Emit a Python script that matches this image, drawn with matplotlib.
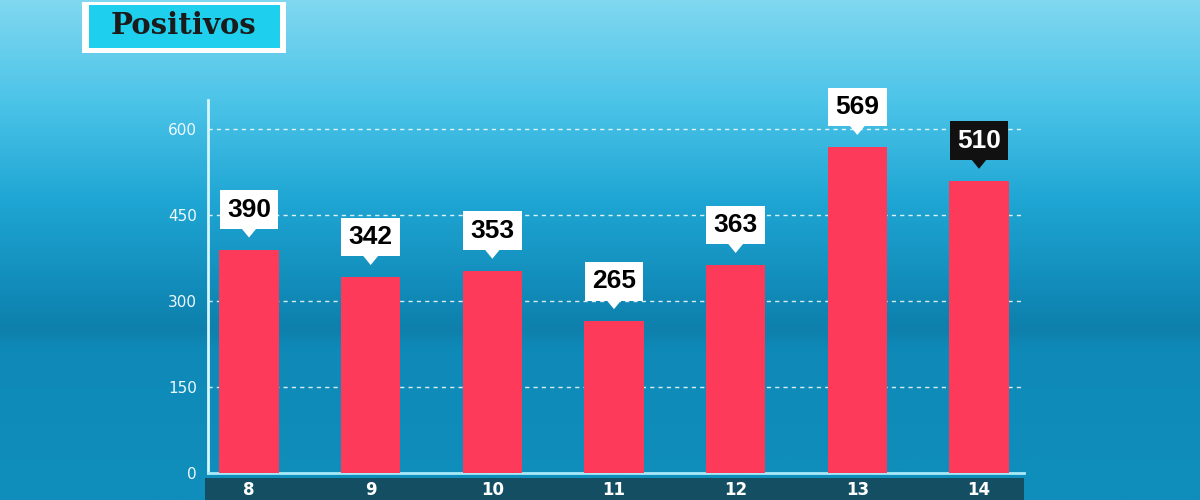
import numpy as np
import matplotlib.pyplot as plt
import matplotlib.patches as mpatches
from matplotlib.colors import LinearSegmentedColormap
from matplotlib.transforms import IdentityTransform

days = ['8', '9', '10', '11', '12', '13', '14']
positivos = [390, 342, 353, 265, 363, 569, 510]
y_ticks = [0, 150, 300, 450, 600]

fig = plt.figure(figsize=(12, 5), dpi=100)

# fondo degradado
bg = fig.add_axes([0, 0, 1, 1])
bg.set_axis_off()
cmap = LinearSegmentedColormap.from_list('fondo', [
    (0.0, '#0f8ebc'), (0.3, '#0f8ab8'), (0.34, '#0e80ab'),
    (0.4, '#1088b6'), (0.6, '#1fa6d4'), (0.8, '#4cc4e8'), (1.0, '#80d8f0')])
grad = np.linspace(0, 1, 256).reshape(-1, 1)
bg.imshow(grad, aspect='auto', cmap=cmap, origin='lower', extent=[0, 1, 0, 1])
bg.set_xlim(0, 1)
bg.set_ylim(0, 1)

ax = fig.add_axes([208 / 1200, 27 / 500, 816 / 1200, 373 / 500])
ax.patch.set_alpha(0)
x = np.arange(len(days))
ax.bar(x, positivos, width=0.49, color='#fe3a5b', zorder=3)
ax.set_xlim(-0.337, 6.37)
ax.set_ylim(0, 651)
ax.set_yticks(y_ticks)
ax.set_yticklabels([str(t) for t in y_ticks], color='#eefaff', fontsize=11)
ax.tick_params(axis='y', length=0, pad=8)
ax.set_xticks([])
for t in y_ticks[1:]:
    ax.axhline(t, color='white', lw=1, ls=(0, (3, 3)), alpha=0.85, zorder=1)
for s in ['top', 'right']:
    ax.spines[s].set_visible(False)
ax.spines['left'].set_color('#d8f6ff')
ax.spines['left'].set_linewidth(2)
ax.spines['bottom'].set_color('#a8eaf8')
ax.spines['bottom'].set_linewidth(2)

fig.canvas.draw()
H = 500
# etiquetas con flecha
for i, v in enumerate(positivos):
    px, py = ax.transData.transform((i, v))
    last = i == len(positivos) - 1
    face = '#111111' if last else 'white'
    tcol = 'white' if last else 'black'
    fig.text(px, py + 40, str(v), transform=IdentityTransform(),
             ha='center', va='center', fontsize=19, fontweight='bold',
             family='Liberation Sans', color=tcol, zorder=6,
             bbox=dict(boxstyle='square,pad=0.28', fc=face, ec='none'))
    tri = mpatches.Polygon([(px - 9, py + 23), (px + 9, py + 23), (px, py + 12)],
                           closed=True, fc=face, ec='none',
                           transform=IdentityTransform(), zorder=6)
    fig.add_artist(tri)

# banda inferior con los días
band = mpatches.Rectangle((205, 0), 819, 22, transform=IdentityTransform(),
                          fc='#134e62', ec='none', zorder=4)
fig.add_artist(band)
for i, d in enumerate(days):
    px, _ = ax.transData.transform((i, 0))
    fig.text(px, 10, d, transform=IdentityTransform(), ha='center', va='center',
             fontsize=12, fontweight='bold', color='white', zorder=5)

# título
fig.add_artist(mpatches.Rectangle((82, H - 53), 204, 51, transform=IdentityTransform(),
                                  fc='white', ec='none', zorder=4))
fig.add_artist(mpatches.Rectangle((89, H - 48), 191, 43, transform=IdentityTransform(),
                                  fc='#1fd0ee', ec='none', zorder=5))
fig.text(184, H - 26, 'Positivos', transform=IdentityTransform(), ha='center',
         va='center', fontsize=21, fontweight='bold', family='DejaVu Serif',
         color='#1b1b1b', zorder=6)

fig.savefig('out.png', dpi=100)
